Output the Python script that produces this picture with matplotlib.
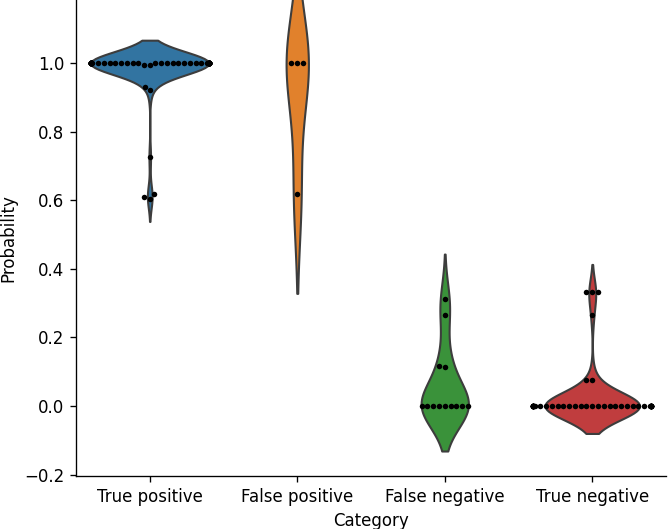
import matplotlib
matplotlib.use("Agg")
import matplotlib.pyplot as plt
import seaborn as sns
import pandas as pd
import warnings
warnings.filterwarnings("ignore")

categories = ["True positive", "False positive", "False negative", "True negative"]
tp_values = [1.0] * 72 + [0.995, 0.995, 0.931, 0.923, 0.726, 0.617, 0.610, 0.605]
fp_values = [1.0, 1.0, 1.0, 0.618]
fn_values = [0.0] * 9 + [0.117, 0.113, 0.265, 0.312]
tn_values = [0.0] * 44 + [0.333, 0.333, 0.333, 0.265, 0.076, 0.076]

rows = []
for cat, vals in zip(categories, [tp_values, fp_values, fn_values, tn_values]):
    for v in vals:
        rows.append({"Category": cat, "Probability": v})
df = pd.DataFrame(rows)

DPI = 120
fig = plt.figure(figsize=(668 / DPI, 529 / DPI), dpi=DPI)
ax = fig.add_axes([76 / 668, (529 - 476) / 529, (666 - 76) / 668, 476 / 529])
sns.violinplot(data=df, x="Category", y="Probability", hue="Category",
               order=categories, palette="tab10", inner=None, ax=ax,
               legend=False, common_norm=True)
sns.swarmplot(data=df, x="Category", y="Probability", order=categories,
              color="k", size=3.3, ax=ax)
ax.set_ylim(-0.204, 1.184)
ax.set_xlim(-0.5, 3.5)
ax.spines["top"].set_visible(False)
ax.spines["right"].set_visible(False)
fig.savefig("out.png", dpi=DPI)
